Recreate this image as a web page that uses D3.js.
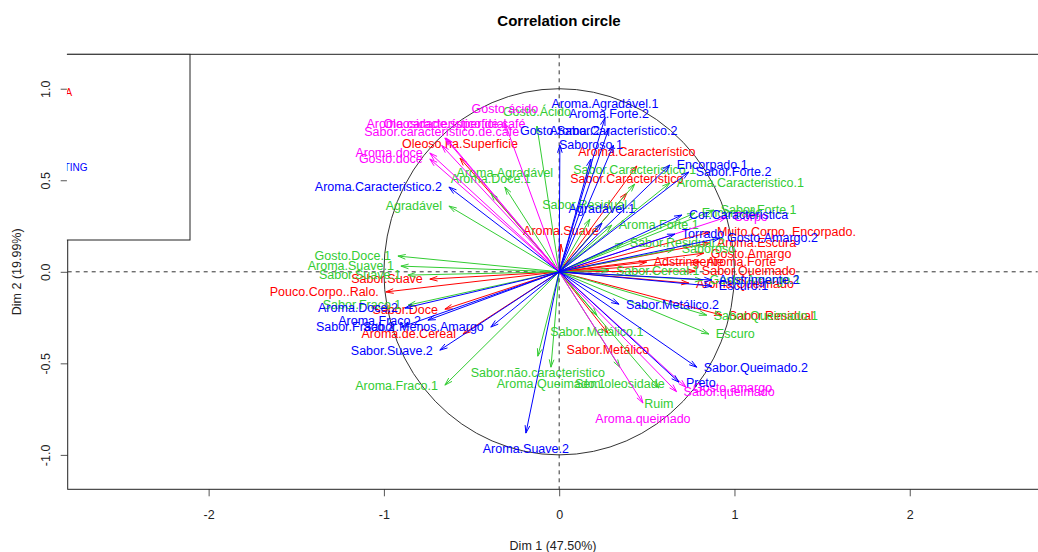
<!DOCTYPE html>
<html>
<head>
<meta charset="utf-8">
<script src="https://cdn.jsdelivr.net/npm/d3@7"></script>
<style>
  body { margin: 0; background: #fff; }
  svg text { font-family: "Liberation Sans", Arial, sans-serif; }
</style>
</head>
<body>
<svg id="chart" width="1038" height="552"></svg>
<script>
// Variable coordinates on the first two dimensions (correlations), by group
const varNames = [
  // group 0 (red)
  "Oleoso.na.Superficie", "Aroma.Característico", "Sabor.Característico", "Aroma.Suave",
  "Sabor.Suave", "Pouco.Corpo..Ralo.", "Sabor.Doce", "Aroma.de.Cereal", "Sabor.Metálico",
  "Sabor.Residual", "Muito.Corpo..Encorpado.", "Aroma.Escura", "Gosto.Amargo",
  "Adstringente", "Aroma.Forte", "Sabor.Queimado", "Aroma.Queimado",
  // group 1 (green)
  "Gosto.Ácido", "Aroma.Agradável", "Aroma.Doce.1", "Agradável", "Sabor.Caracteristico.1",
  "Aroma.Caracteristico.1", "Sabor.Residual.1", "Aroma.Forte.1", "Gosto.Doce.1",
  "Aroma.Suave.1", "Sabor.Suave.1", "Sabor.Fraco.1", "Aroma.Fraco.1",
  "Sabor.não.caracteristico", "Aroma.Queimado.1", "Sem.oleosidade", "Ruim",
  "Sabor.Metálico.1", "Escuro", "Sabor.Queimado.1", "Encorpado", "Sabor.Forte.1",
  "Sabor.Residual.2", "Saboroso", "Sabor.Cereal.1", "Gosto.Amargo.1",
  // group 2 (magenta)
  "Gosto ácido", "Aroma.característico.de.café", "Oleosidade.superficial",
  "Sabor.característico.de.café", "Aroma.doce", "Gosto.doce", "Corpo",
  "Gosto.amargo", "Sabor.queimado", "Aroma.queimado",
  // group 3 (blue)
  "Aroma.Agradável.1", "Aroma.Forte.2", "Gosto.Sabor.2", "Aroma.Característico.2",
  "Saboroso.1", "Agradável.1", "Aroma.Caracteristico.2", "Encorpado.1", "Sabor.Forte.2",
  "Cor.Caracteristica", "Torrado", "Gosto.Amargo.2", "Adstringente.2", "Escuro.1",
  "Sabor.Metálico.2", "Sabor.Queimado.2", "Preto", "Aroma.Suave.2", "Sabor.Suave.2",
  "Sabor.Menos.Amargo", "Aroma.Doce.2", "Aroma.Fraco.2", "Sabor.Fraco.2"
];

const varGroup = [
  0,0,0,0,0,0,0,0,0,0,0,0,0,0,0,0,0,
  1,1,1,1,1,1,1,1,1,1,1,1,1,1,1,1,1,1,1,1,1,1,1,1,1,1,
  2,2,2,2,2,2,2,2,2,2,
  3,3,3,3,3,3,3,3,3,3,3,3,3,3,3,3,3,3,3,3,3,3,3
];

const dim1 = [
  -0.566, 0.443, 0.386, 0.010, -0.738, -0.989, -0.652, -0.549, 0.278,
  0.928, 0.860, 0.860, 0.825, 0.499, 0.802, 0.774, 0.740,
  -0.127, -0.310, -0.390, -0.629, 0.431, 0.631, 0.175, 0.300, -0.920,
  -0.903, -0.863, -0.861, -0.652, -0.122, -0.047, 0.346, 0.569,
  0.215, 0.854, 0.842, 0.774, 0.882, 0.363, 0.659, 0.284, 0.818,
  -0.310, -0.646, -0.652, -0.670, -0.738, -0.738, 0.956, 0.723, 0.670, 0.478,
  0.261, 0.284, 0.004, 0.310, 0.181, 0.244, -0.629, 0.631, 0.739,
  0.700, 0.660, 0.917, 0.871, 0.871, 0.341, 0.785, 0.683, -0.190, -0.681,
  -0.390, -0.880, -0.749, -0.900
];

const dim2 = [
  0.621, 0.578, 0.430, 0.151, -0.040, -0.110, -0.204, -0.340, -0.335,
  -0.237, 0.217, 0.157, 0.102, 0.053, 0.053, 0.004, -0.062,
  0.796, 0.463, 0.430, 0.359, 0.479, 0.485, 0.288, 0.255, 0.086,
  0.031, -0.018, -0.182, -0.619, -0.461, -0.521, -0.521, -0.635,
  -0.237, -0.340, -0.237, 0.321, 0.337, 0.157, 0.124, 0.009, -0.045,
  0.813, 0.731, 0.731, 0.690, 0.649, 0.616, 0.299, -0.630, -0.655, -0.717,
  0.840, 0.785, 0.692, 0.692, 0.616, 0.266, 0.463, 0.583, 0.545,
  0.310, 0.206, 0.184, -0.045, -0.078, -0.177, -0.521, -0.603, -0.881, -0.428,
  -0.302, -0.198, -0.264, -0.302
];

const groupNames = ["SCAA", "IAC", "ICO", "TASTING"];
const groupColors = ["#ff0000", "#33cc33", "#ff00ff", "#0000ff"];
const xTicks = [-2, -1, 0, 1, 2];
const yTicks = [-1, -0.5, 0, 0.5, 1];

const svg = d3.select("#chart");
const plot = { left: 67.7, right: 1037.7, top: 54.3, bottom: 489.3 };

const x = d3.scaleLinear().domain([-2.804, 2.73]).range([plot.left, plot.right]);
const y = d3.scaleLinear().domain([-1.188, 1.188]).range([plot.bottom, plot.top]);

svg.append("rect").attr("width", 1038).attr("height", 552).attr("fill", "#fff");

// Title
svg.append("text")
  .attr("x", 559).attr("y", 26)
  .attr("text-anchor", "middle")
  .attr("font-size", 15).attr("font-weight", "bold")
  .text("Correlation circle");

// Axes
const xAxis = svg.append("g")
  .attr("transform", `translate(0,${plot.bottom})`)
  .call(d3.axisBottom(x).tickValues(xTicks).tickSize(7).tickPadding(14)
    .tickFormat(d => d3.format("d")(d).replace("−", "-")));
xAxis.select(".domain").remove();
xAxis.selectAll("line").attr("stroke", "#555");
xAxis.selectAll("text").attr("font-size", 12.5).attr("fill", "#222")
  .attr("font-family", "Liberation Sans, Arial, sans-serif");

const yAxis = svg.append("g")
  .attr("transform", `translate(${plot.left},0)`)
  .call(d3.axisLeft(y).tickValues(yTicks).tickSize(7).tickFormat(() => ""));
yAxis.select(".domain").remove();
yAxis.selectAll("line").attr("stroke", "#555");
yAxis.selectAll(".tick").append("text")
  .attr("transform", "translate(-22,0) rotate(-90)")
  .attr("text-anchor", "middle")
  .attr("dy", "0.35em")
  .attr("font-size", 12.5).attr("fill", "#222")
  .text(d => d3.format(".1f")(d).replace("−", "-"));

// Axis titles
svg.append("text")
  .attr("x", 553).attr("y", 550)
  .attr("text-anchor", "middle").attr("font-size", 12.5).attr("fill", "#222")
  .text("Dim 1 (47.50%)");
svg.append("text")
  .attr("transform", `translate(21,${y(0)}) rotate(-90)`)
  .attr("text-anchor", "middle").attr("font-size", 12.5).attr("fill", "#222")
  .text("Dim 2 (19.99%)");

// Plot frame
svg.append("rect")
  .attr("x", plot.left).attr("y", plot.top)
  .attr("width", plot.right - plot.left + 2).attr("height", plot.bottom - plot.top)
  .attr("fill", "none").attr("stroke", "#222").attr("stroke-width", 1);

// Clip regions
const defs = svg.append("defs");
defs.append("clipPath").attr("id", "plotClip")
  .append("rect")
  .attr("x", plot.left).attr("y", plot.top)
  .attr("width", plot.right - plot.left).attr("height", plot.bottom - plot.top);
defs.append("clipPath").attr("id", "legendClip")
  .append("rect")
  .attr("x", plot.left - 0.8).attr("y", plot.top - 1)
  .attr("width", plot.right - plot.left).attr("height", plot.bottom - plot.top);

const g = svg.append("g").attr("clip-path", "url(#plotClip)");

// Unit circle
g.append("ellipse")
  .attr("cx", x(0)).attr("cy", y(0))
  .attr("rx", x(1) - x(0)).attr("ry", y(0) - y(1))
  .attr("fill", "none").attr("stroke", "#333").attr("stroke-width", 1);

// Reference lines through the origin
g.append("line")
  .attr("x1", plot.left).attr("x2", plot.right + 10)
  .attr("y1", y(0)).attr("y2", y(0))
  .attr("stroke", "#333").attr("stroke-dasharray", "4,4");
g.append("line")
  .attr("x1", x(0)).attr("x2", x(0))
  .attr("y1", plot.top).attr("y2", plot.bottom)
  .attr("stroke", "#333").attr("stroke-dasharray", "4,4");

// Arrows and labels
const headLen = 8, headAng = 17 * Math.PI / 180;
const ox = x(0), oy = y(0);
varNames.forEach((name, i) => {
  const d1 = dim1[i], d2 = dim2[i];
  const col = groupColors[varGroup[i]];
  const px = x(d1), py = y(d2);
  const a = Math.atan2(py - oy, px - ox);
  const path = d3.path();
  path.moveTo(ox, oy); path.lineTo(px, py);
  path.moveTo(px - headLen * Math.cos(a - headAng), py - headLen * Math.sin(a - headAng));
  path.lineTo(px, py);
  path.lineTo(px - headLen * Math.cos(a + headAng), py - headLen * Math.sin(a + headAng));
  g.append("path").attr("d", path.toString())
    .attr("fill", "none").attr("stroke", col).attr("stroke-width", 1);

  let tx = px, ty = py, anchor = "middle";
  if (Math.abs(d1) > Math.abs(d2)) {
    anchor = d1 >= 0 ? "start" : "end";
    tx = d1 >= 0 ? px + 7 : px - 7;
  } else {
    ty = d2 >= 0 ? py - 14 : py + 16;
  }
  g.append("text")
    .attr("x", tx).attr("y", ty).attr("dy", "0.35em")
    .attr("text-anchor", anchor)
    .attr("font-size", 12.5).attr("fill", col)
    .text(name);
});

// Group legend (white box anchored top-left, partly outside the plotting region)
const leg = svg.append("g").attr("clip-path", "url(#legendClip)");
leg.append("rect")
  .attr("x", 20).attr("y", plot.top).attr("width", 170).attr("height", 240 - plot.top)
  .attr("fill", "#fff").attr("stroke", "#222");
groupNames.forEach((nm, i) => {
  leg.append("text")
    .attr("x", 45).attr("y", 92.5 + i * 25).attr("dy", "0.35em")
    .attr("font-size", 10).attr("fill", groupColors[i])
    .text(nm);
});
</script>
</body>
</html>
